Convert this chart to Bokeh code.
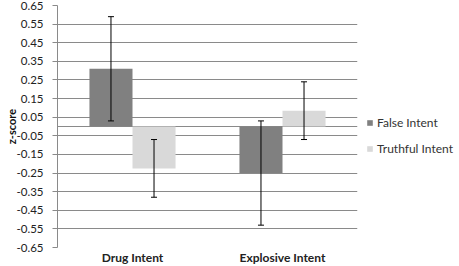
from bokeh.plotting import figure
from bokeh.models import (ColumnDataSource, FactorRange, FixedTicker, Whisker,
                          TeeHead, Span, Legend, LegendItem, PrintfTickFormatter)
from bokeh.transform import dodge
from bokeh.embed import file_html
from bokeh.resources import INLINE

categories = ["Drug Intent", "Explosive Intent"]
series_names = ["False Intent", "Truthful Intent"]
false_mean = [0.31, -0.25]
false_err = [0.28, 0.28]
truth_mean = [-0.225, 0.085]
truth_err = [0.155, 0.155]
y_ticks = [-0.65, -0.55, -0.45, -0.35, -0.25, -0.15, -0.05,
           0.05, 0.15, 0.25, 0.35, 0.45, 0.55, 0.65]

FONT = "Lato"
GRID = "#8a8a8a"

p = figure(frame_width=300, frame_height=242,
           x_range=FactorRange(factors=categories, range_padding=0),
           y_range=(-0.65, 0.65), output_backend="svg", toolbar_location=None,
           min_border_left=57, min_border_right=0, min_border_top=5, min_border_bottom=12)
p.outline_line_color = None
p.background_fill_color = "white"

p.xgrid.grid_line_color = None
p.ygrid.grid_line_color = GRID
p.ygrid.grid_line_width = 1

p.yaxis.ticker = FixedTicker(ticks=y_ticks)
p.yaxis.formatter = PrintfTickFormatter(format="%.2f")
p.yaxis.axis_line_color = GRID
p.yaxis.major_tick_line_color = GRID
p.yaxis.major_tick_out = 5
p.yaxis.major_tick_in = 0
p.yaxis.minor_tick_line_color = None
p.yaxis.major_label_standoff = 9
p.yaxis.major_label_text_font = FONT
p.yaxis.major_label_text_font_size = "11.5px"
p.yaxis.major_label_text_color = "#222222"
p.yaxis.axis_label = "z-score"
p.yaxis.axis_label_text_font = FONT
p.yaxis.axis_label_text_font_style = "bold"
p.yaxis.axis_label_text_font_size = "11px"
p.yaxis.axis_label_text_color = "#111111"
p.yaxis.axis_label_standoff = -4

p.xaxis.axis_line_color = None
p.xaxis.major_tick_line_color = None
p.xaxis.minor_tick_line_color = None
p.xaxis.major_tick_out = 0
p.xaxis.major_tick_in = 0
p.xaxis.major_label_standoff = 2
p.xaxis.major_label_text_font = FONT
p.xaxis.major_label_text_font_style = "bold"
p.xaxis.major_label_text_font_size = "12px"
p.xaxis.major_label_text_color = "#222222"

src_false = ColumnDataSource(dict(cat=categories, mean=false_mean,
                                  upper=[m + e for m, e in zip(false_mean, false_err)],
                                  lower=[m - e for m, e in zip(false_mean, false_err)]))
src_truth = ColumnDataSource(dict(cat=categories, mean=truth_mean,
                                  upper=[m + e for m, e in zip(truth_mean, truth_err)],
                                  lower=[m - e for m, e in zip(truth_mean, truth_err)]))

off = 0.1435
bw = 0.287
r1 = p.vbar(x=dodge("cat", -off, range=p.x_range), top="mean", bottom=0, width=bw,
            source=src_false, fill_color="#808080", line_color=None)
r2 = p.vbar(x=dodge("cat", off, range=p.x_range), top="mean", bottom=0, width=bw,
            source=src_truth, fill_color="#d9d9d9", line_color=None)

zero = Span(location=0, dimension="width", line_color=GRID, line_width=1, level="underlay")
p.add_layout(zero)

for src, o in ((src_false, -off), (src_truth, off)):
    w = Whisker(source=src, base=dodge("cat", o, range=p.x_range), upper="upper", lower="lower",
                line_color="#000000", line_width=1, level="annotation",
                upper_head=TeeHead(size=6, line_color="#000000", line_width=1),
                lower_head=TeeHead(size=6, line_color="#000000", line_width=1))
    p.add_layout(w)

legend = Legend(items=[LegendItem(label=series_names[0], renderers=[r1]),
                       LegendItem(label=series_names[1], renderers=[r2])],
                location=(9, 91), orientation="vertical",
                glyph_width=7, glyph_height=7, label_standoff=4,
                label_height=10, spacing=11, padding=9, margin=0,
                border_line_color=None, background_fill_alpha=0,
                label_text_font=FONT, label_text_font_size="12px",
                label_text_color="#333333")
p.add_layout(legend, "right")

open("out.html", "w").write(file_html(p, INLINE))
